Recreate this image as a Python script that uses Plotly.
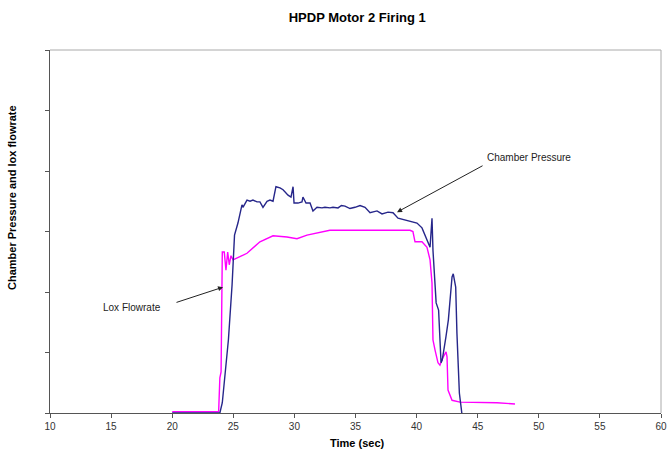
import plotly.graph_objects as go

# Chamber pressure (navy)
cp_time = [20.0, 23.9, 24.1, 24.4, 24.6, 24.9, 25.1, 25.38, 25.71, 25.79, 26.12, 26.37, 26.61, 26.94, 27.18,
           27.43, 27.76, 28.00, 28.25, 28.49, 28.82, 29.07, 29.48, 29.72, 29.89, 29.97, 30.29, 30.62, 30.70,
           30.95, 31.28, 31.52, 31.85, 32.26, 32.50, 32.91, 33.16, 33.57, 33.85, 34.14, 34.55, 34.96, 35.37,
           35.78, 36.19, 36.76, 37.17, 37.66, 38.07, 38.48, 39.05, 39.62, 40.03, 40.44, 40.69, 40.85, 41.10,
           41.26, 41.34, 41.6, 41.8, 42.0, 42.1, 42.4, 42.6, 42.9, 43.0, 43.2, 43.3, 43.5, 43.7]
cp_value = [0.0, 0.0, 0.17, 0.76, 1.21, 2.12, 2.94, 3.14, 3.44, 3.40, 3.52, 3.50, 3.52, 3.49, 3.49,
            3.40, 3.50, 3.52, 3.50, 3.74, 3.72, 3.69, 3.60, 3.57, 3.74, 3.47, 3.47, 3.49, 3.57,
            3.47, 3.47, 3.34, 3.40, 3.39, 3.40, 3.39, 3.40, 3.39, 3.43, 3.42, 3.38, 3.40, 3.43,
            3.40, 3.31, 3.34, 3.29, 3.32, 3.31, 3.22, 3.19, 3.16, 3.14, 3.06, 2.94, 2.86, 2.74,
            3.22, 2.69, 1.82, 1.70, 0.83, 0.88, 1.26, 1.54, 2.25, 2.30, 2.08, 1.32, 0.33, 0.0]

# Lox flowrate (magenta)
lox_time = [20.0, 23.8, 23.9, 24.0, 24.1, 24.26, 24.40, 24.54, 24.67, 24.81, 24.98, 26.12, 27.18, 28.25,
            29.39, 30.21, 31.03, 32.09, 32.9, 39.46, 39.7, 39.87, 40.44, 40.85, 41.10, 41.26, 41.34, 41.51,
            41.75, 41.91, 42.16, 42.41, 42.49, 42.57, 42.90, 43.55, 46.58, 48.05]
lox_value = [0.02, 0.02, 0.58, 0.68, 2.66, 2.66, 2.36, 2.66, 2.45, 2.60, 2.53, 2.64, 2.83, 2.93,
             2.91, 2.88, 2.94, 2.99, 3.02, 3.02, 3.00, 2.83, 2.83, 2.74, 2.53, 2.15, 1.21, 1.04,
             0.83, 0.79, 0.92, 1.01, 0.93, 0.38, 0.21, 0.18, 0.17, 0.15]

x_ticks = [10, 15, 20, 25, 30, 35, 40, 45, 50, 55, 60]

fig = go.Figure()
fig.add_trace(go.Scatter(x=lox_time, y=lox_value, mode="lines",
                         line=dict(color="#ff00ff", width=1.4), name="Lox Flowrate"))
fig.add_trace(go.Scatter(x=cp_time, y=cp_value, mode="lines",
                         line=dict(color="#26268a", width=1.4), name="Chamber Pressure"))

font = "Liberation Sans, Arial, sans-serif"

fig.update_layout(
    width=669, height=457,
    margin=dict(l=50, r=8, t=50, b=44),
    paper_bgcolor="white", plot_bgcolor="white",
    showlegend=False,
    font=dict(family=font, size=10, color="#333333"),
    title=dict(text="<b>HPDP Motor 2 Firing 1</b>", x=0.534, xanchor="center",
               y=1 - 17 / 457, yanchor="middle",
               font=dict(family=font, size=13, color="black")),
    xaxis=dict(range=[10, 60], tickvals=x_ticks, ticktext=[str(v) for v in x_ticks],
               automargin=False,
               showgrid=False, zeroline=False, showline=True, linecolor="#555555", linewidth=1,
               ticks="outside", ticklen=4, tickcolor="#555555",
               tickfont=dict(family=font, size=10, color="#333333")),
    yaxis=dict(range=[0, 6], dtick=1, showticklabels=False, automargin=False,
               showgrid=False, zeroline=False, showline=True, linecolor="#555555", linewidth=1,
               ticks="outside", ticklen=4, tickcolor="#555555"),
    shapes=[
        dict(type="line", xref="paper", yref="paper", x0=0, x1=1, y0=1, y1=1,
             line=dict(color="#aaaaaa", width=1)),
        dict(type="line", xref="paper", yref="paper", x0=1, x1=1, y0=0, y1=1,
             line=dict(color="#aaaaaa", width=1)),
    ],
    annotations=[
        dict(text="<b>Time (sec)</b>", xref="paper", yref="paper",
             x=(357 - 50) / 611, y=-(443 - 413) / 363, showarrow=False,
             xanchor="center", yanchor="middle",
             font=dict(family=font, size=11, color="black")),
        dict(text="<b>Chamber Pressure and lox flowrate</b>", xref="paper", yref="paper",
             x=-38 / 611, y=(413 - 198) / 363, textangle=-90, showarrow=False,
             xanchor="center", yanchor="middle",
             font=dict(family=font, size=11, color="black")),
        dict(text="Chamber Pressure", x=45.6, y=4.23, xref="x", yref="y", showarrow=False,
             xanchor="left", yanchor="middle", font=dict(family=font, size=10, color="#222222")),
        dict(text="", x=38.4, y=3.32, ax=45.52, ay=4.10, xref="x", yref="y", axref="x", ayref="y",
             showarrow=True, arrowhead=2, arrowsize=1, arrowwidth=1, arrowcolor="#222222"),
        dict(text="Lox Flowrate", x=16.7, y=1.74, xref="x", yref="y", showarrow=False,
             xanchor="center", yanchor="middle", font=dict(family=font, size=10, color="#222222")),
        dict(text="", x=24.16, y=2.08, ax=20.23, ay=1.82, xref="x", yref="y", axref="x", ayref="y",
             showarrow=True, arrowhead=2, arrowsize=1, arrowwidth=1, arrowcolor="#222222"),
    ],
)

fig.write_html("out.html")
